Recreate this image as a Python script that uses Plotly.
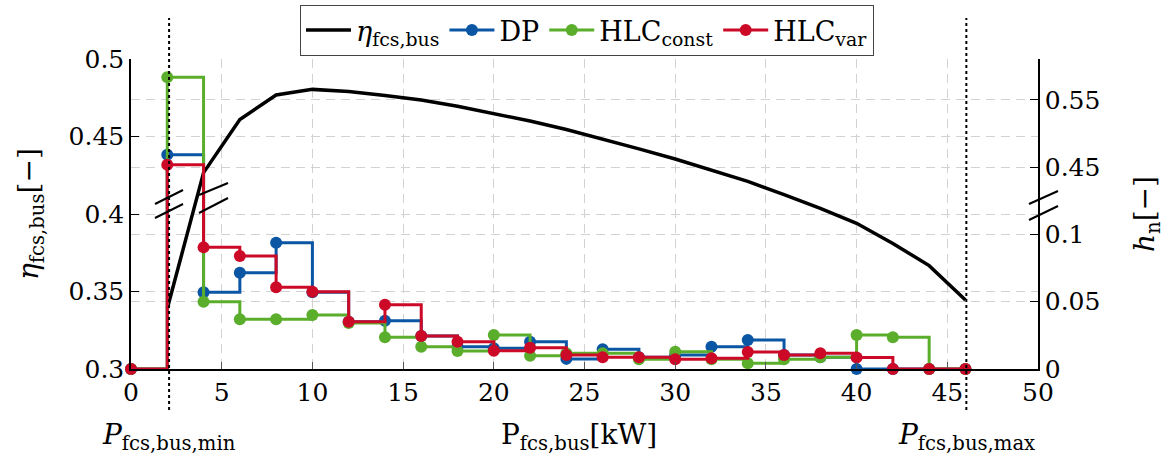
import plotly.graph_objects as go

# ---------------- data ----------------
bin_x = [0, 2, 4, 6, 8, 10, 12, 14, 16, 18, 20, 22, 24, 26, 28, 30, 32, 34, 36, 38, 40, 42, 44, 46]
h_dp = [0, 0.4688, 0.0568, 0.0713, 0.0936, 0.0568, 0.035, 0.0358, 0.0244, 0.0165, 0.0153, 0.0202,
        0.0075, 0.0146, 0.0087, 0.0104, 0.0165, 0.0215, 0.0104, 0.0087, 0, 0, 0, 0]
h_const = [0, 0.5835, 0.0499, 0.0368, 0.0368, 0.040, 0.034, 0.0235, 0.0165, 0.0133, 0.0252, 0.0099,
           0.0116, 0.0116, 0.0072, 0.0128, 0.0072, 0.0042, 0.0072, 0.0087, 0.0252, 0.0235, 0, 0]
h_var = [0, 0.454, 0.0901, 0.0837, 0.0605, 0.0573, 0.035, 0.0476, 0.0244, 0.0202, 0.0136, 0.0158,
         0.0104, 0.0087, 0.0087, 0.0072, 0.0079, 0.0126, 0.0104, 0.0116, 0.0085, 0, 0, 0]

eta_x = [2, 4, 6, 8, 10, 12, 14, 16, 18, 20, 22, 24, 26, 28, 30, 32, 34, 36, 38, 40, 42, 44, 46]
eta = [0.339, 0.4267, 0.461, 0.4768, 0.4804, 0.479, 0.4765, 0.4735, 0.4695, 0.465, 0.460, 0.4545,
       0.4485, 0.442, 0.4355, 0.4285, 0.421, 0.4125, 0.4037, 0.394, 0.381, 0.3667, 0.3445]

P_min = 2.1
P_max = 46.05

x_ticks = [0, 5, 10, 15, 20, 25, 30, 35, 40, 45, 50]
eta_ticks = [0.3, 0.35, 0.4, 0.45, 0.5]
eta_ticktext = ["0.3", "0.35", "0.4", "0.45", "0.5"]
h_ticks = [0, 0.05, 0.1, 0.45, 0.55]
h_ticktext = ["0", "0.05", "0.1", "0.45", "0.55"]

# ---------------- broken right-axis scale ----------------
BREAK_LO, BREAK_HI = 0.1, 0.45
GAP = 0.0493
UPPER_SCALE = 0.5


def hmap(v):
    if v <= BREAK_LO:
        return v
    return BREAK_LO + GAP + (v - BREAK_HI) * UPPER_SCALE


FONT = "DejaVu Serif"
BLUE = "#0a56a4"
GREEN = "#5aae2b"
RED = "#cc0a28"
GRID = "#d2d2d2"

fig = go.Figure()
fig.add_trace(go.Scatter(x=eta_x, y=eta, mode="lines", name="<i>η</i><sub>fcs,bus</sub>",
                         line=dict(color="black", width=3.5), yaxis="y"))
for name, vals, col in [("DP", h_dp, BLUE),
                        ("HLC<sub>const</sub>", h_const, GREEN),
                        ("HLC<sub>var</sub>", h_var, RED)]:
    fig.add_trace(go.Scatter(x=bin_x, y=[hmap(v) for v in vals], mode="lines+markers", name=name,
                             line=dict(color=col, width=3, shape="hv"),
                             marker=dict(color=col, size=12), yaxis="y2", cliponaxis=False))

# plot area in px: x 131..1038, y 59..369
L, R, T, B = 131, 1038, 59, 369
W, H = R - L, B - T


def px(xp):
    return (xp - L) / W


def py(yp):
    return (B - yp) / H


shapes = []
# dotted reference lines
for xv in (P_min, P_max):
    shapes.append(dict(type="line", xref="x", yref="paper", x0=xv, x1=xv, y0=py(410), y1=py(18),
                       line=dict(color="black", width=2, dash="dot")))
# break marks (decorative)
for (x0, y0, x1, y1) in [(155, 204, 183, 190), (155, 218, 183, 204),
                         (199, 195, 228, 183), (199, 213, 228, 198),
                         (1029, 204, 1058, 191), (1029, 220, 1058, 206)]:
    shapes.append(dict(type="line", xref="paper", yref="paper", x0=px(x0), y0=py(y0), x1=px(x1),
                       y1=py(y1), line=dict(color="black", width=2)))

TF = dict(size=28, family=FONT, color="black")
annotations = [
    dict(text="<i>P</i><sub>fcs,bus,min</sub>", x=P_min, xref="x", y=py(437), yref="paper",
         showarrow=False, font=TF, xanchor="center", yanchor="middle"),
    dict(text="<i>P</i><sub>fcs,bus,max</sub>", x=P_max, xref="x", y=py(437), yref="paper",
         showarrow=False, font=TF, xanchor="center", yanchor="middle"),
    dict(text="P<sub>fcs,bus</sub>[kW]", x=px(579), xref="paper", y=py(437), yref="paper",
         showarrow=False, font=TF, xanchor="center", yanchor="middle"),
    dict(text="<i>η</i><sub>fcs,bus</sub>[−]", x=px(30), xref="paper", y=py(214), yref="paper",
         showarrow=False, textangle=-90, font=TF, xanchor="center", yanchor="middle"),
    dict(text="<i>h</i><sub>n</sub>[−]", x=px(1146), xref="paper", y=py(214), yref="paper",
         showarrow=False, textangle=-90, font=TF, xanchor="center", yanchor="middle"),
]

axis_common = dict(showline=True, linecolor="black", linewidth=1.5, zeroline=False,
                   showgrid=True, gridcolor=GRID, griddash="9px,6px", gridwidth=1.2,
                   tickfont=dict(size=25, family=FONT, color="black"))

fig.update_layout(
    width=1173, height=461,
    margin=dict(l=L, r=1173 - R, t=T, b=461 - B, pad=0, autoexpand=False),
    paper_bgcolor="white", plot_bgcolor="white",
    font=dict(family=FONT, size=25, color="black"),
    showlegend=True,
    legend=dict(orientation="h", x=px(587), xanchor="center", y=py(5), yanchor="top",
                bordercolor="#444", borderwidth=1, bgcolor="white",
                font=dict(size=27, family=FONT), itemwidth=45, tracegroupgap=0),
    xaxis=dict(range=[0, 50], tickvals=x_ticks, ticks="inside", ticklen=7, tickcolor="#555",
               automargin=False, **axis_common),
    yaxis=dict(range=[0.3, 0.5], tickvals=eta_ticks, ticktext=eta_ticktext, ticks="inside",
               ticklen=8, tickcolor="black", automargin=False, **axis_common),
    yaxis2=dict(range=[0, (B - T) / 1350], overlaying="y", side="right",
                tickvals=[hmap(v) for v in h_ticks], ticktext=h_ticktext, ticks="inside",
                ticklen=8, tickcolor="black", automargin=False, **axis_common),
    shapes=shapes,
    annotations=annotations,
)

fig.write_html("out.html")
